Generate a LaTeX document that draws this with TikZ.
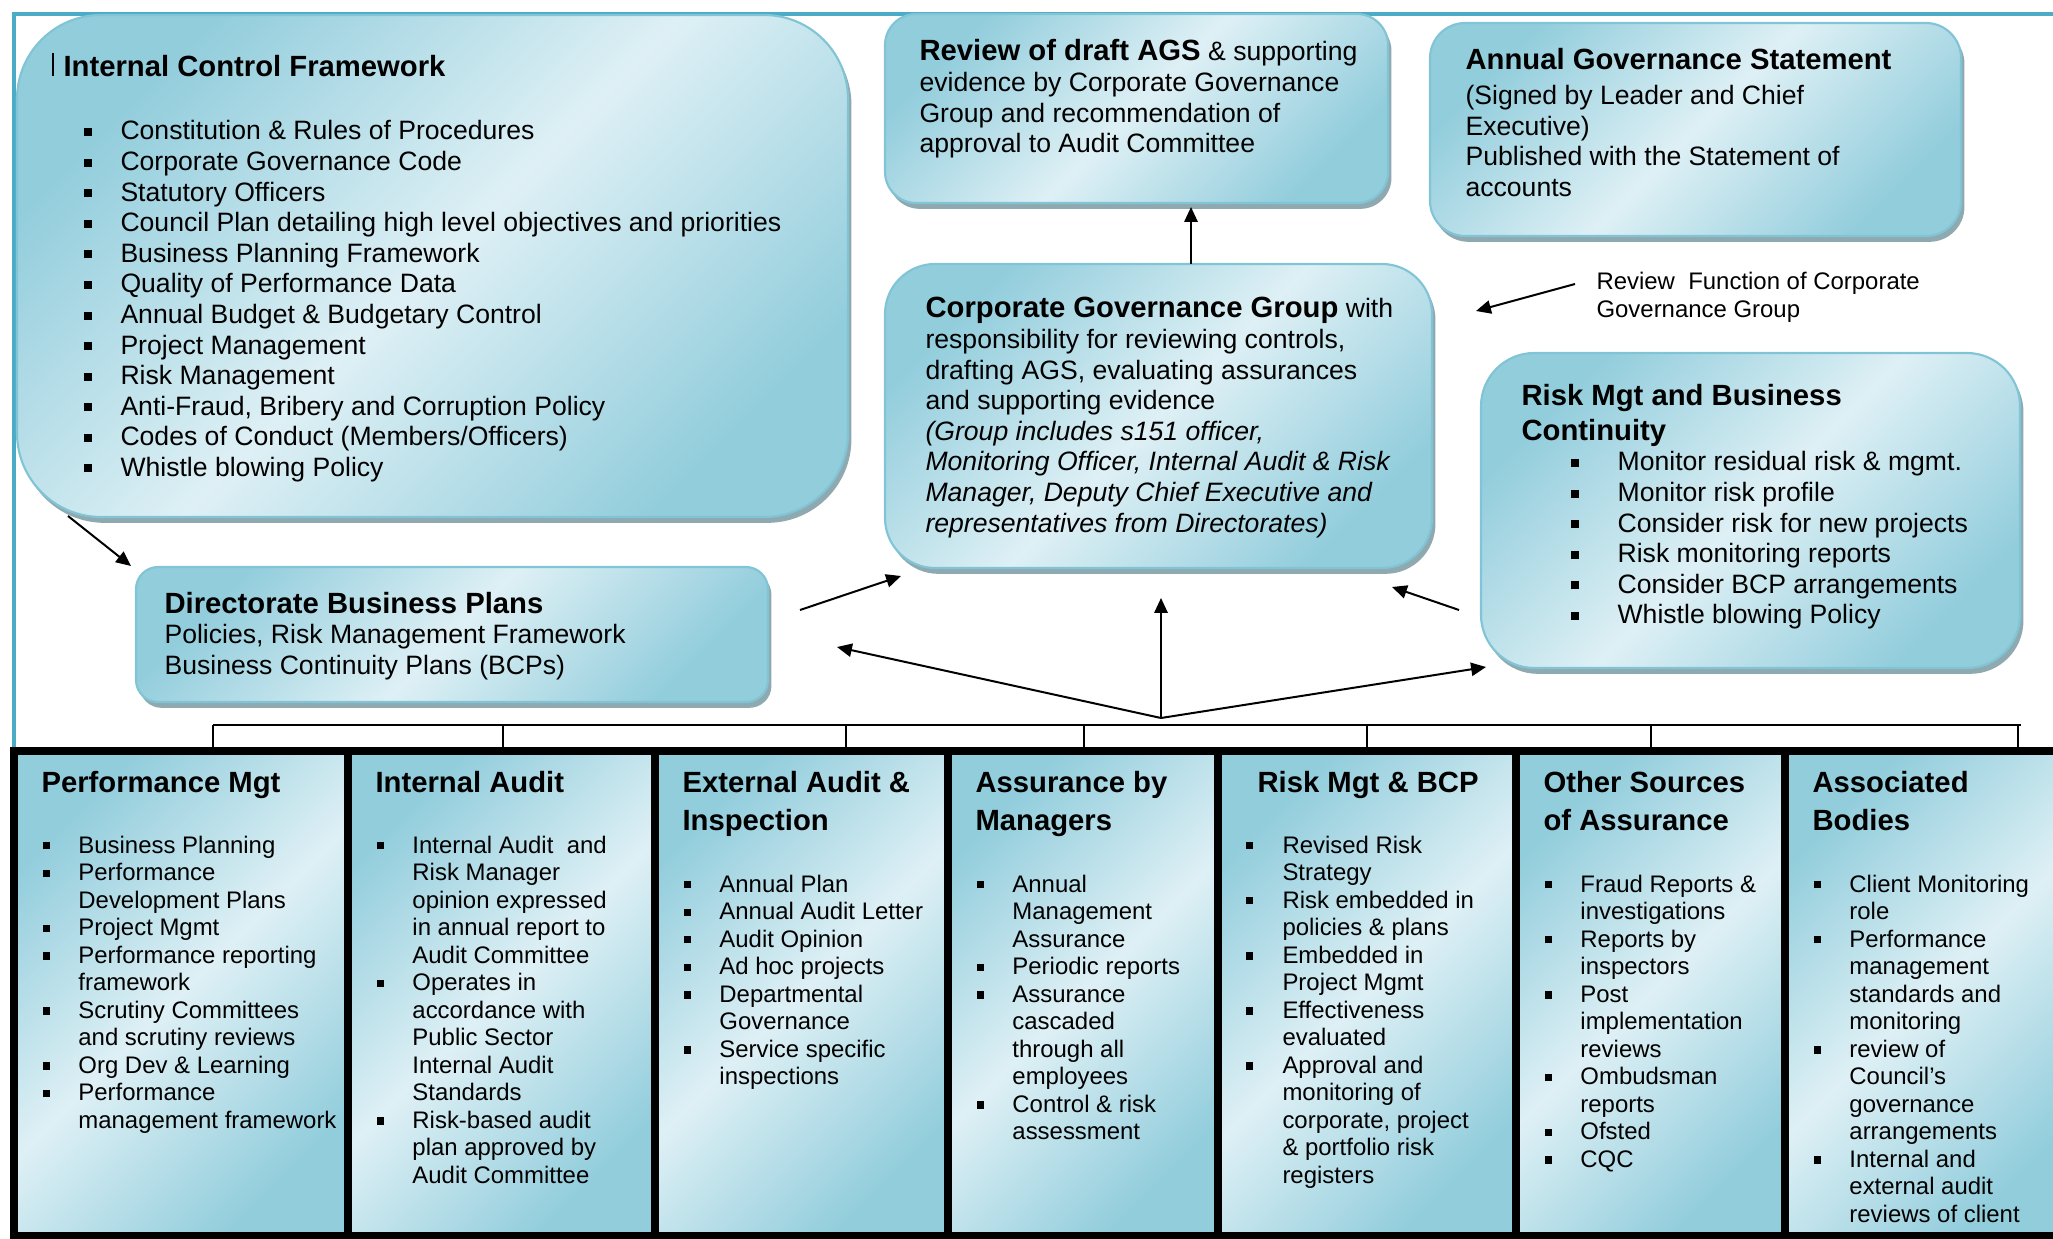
\documentclass[tikz,border=0pt]{standalone}
\usepackage{fontspec}
\setmainfont{Liberation Sans}
\usetikzlibrary{fit,shadows,arrows.meta}
\definecolor{framecol}{RGB}{75,172,198}
\definecolor{paneldark}{RGB}{146,205,220}
\definecolor{panellight}{RGB}{222,240,245}
\definecolor{panelline}{RGB}{128,196,214}
\definecolor{panelshade}{RGB}{143,169,176}
\newcommand{\bul}{\rule[0.15em]{0.3em}{0.3em}}
\newcommand{\textlines}[1]{\begin{tabular}[t]{@{}l@{}}#1\end{tabular}}
\newcommand{\blist}[2]{\begin{tabular}[t]{@{}p{#1}@{}l@{}}#2\end{tabular}}
\newcommand{\boxtitle}[1]{{\fontsize{11}{11.5}\selectfont\bfseries #1}}

\begin{document}
\begin{tikzpicture}[x=0.376pt,y=-0.376pt]
    %
    % `panel' is the rounded shaded box with its shadow.
    % `column' is one of the black framed columns along the bottom.
    % `flow' is used for all arrows, `bus' for the plain lines.
    \tikzstyle{panel} = [draw=panelline,line width=0.8pt,inner sep=0pt,left color=paneldark,right color=paneldark,middle color=panellight,shading angle=45,drop shadow={shadow xshift=1.3pt,shadow yshift=-2.2pt,fill=panelshade,opacity=1}]
    \tikzstyle{column} = [draw=black,line width=2.8pt,inner sep=0pt,left color=paneldark,right color=paneldark,middle color=panellight,shading angle=45]
    \tikzstyle{txt} = [anchor=base west,inner sep=0pt]
    \tikzstyle{bodyfont} = [font=\fontsize{10}{11.5}\selectfont]
    \tikzstyle{smallfont} = [font=\fontsize{9}{10.35}\selectfont]
    \tikzstyle{headfont} = [font=\fontsize{11}{12.8}\selectfont\bfseries]
    \tikzstyle{colheadfont} = [font=\fontsize{11}{14.3}\selectfont\bfseries]
    \tikzstyle{flow} = [-{Triangle[length=5.6pt,width=5pt]},line width=0.75pt]
    \tikzstyle{bus} = [line width=0.75pt]
    \useasboundingbox (0,0) rectangle (2053,1239);
    %
    % Outer frame
    \draw[framecol,line width=1.6pt] (14,748) -- (14,14) -- (2060,14);
    %
    % Boxes
    \node[panel,rounded corners=31.6pt,fit={(17,15) (848,517)}] (icf) {};
    \node[panel,rounded corners=11.7pt,fit={(885,14) (1388,203)}] (review) {};
    \node[panel,rounded corners=13.2pt,fit={(1430,23) (1961,236)}] (ags) {};
    \node[panel,rounded corners=18.8pt,fit={(885,264) (1432,568)}] (cgg) {};
    \node[panel,rounded corners=20pt,fit={(1481,353) (2020,668)}] (risk) {};
    \node[panel,rounded corners=8.3pt,fit={(136,567) (768,702)}] (dbp) {};
    %
    % Columns
    \node[column,fit={(14,751) (348,1236)}] (c1) {};
    \node[column,fit={(348,751) (655,1236)}] (c2) {};
    \node[column,fit={(655,751) (948,1236)}] (c3) {};
    \node[column,fit={(948,751) (1218,1236)}] (c4) {};
    \node[column,fit={(1218,751) (1516,1236)}] (c5) {};
    \node[column,fit={(1516,751) (1785,1236)}] (c6) {};
    \node[column,fit={(1785,751) (2075,1236)}] (c7) {};
    %
    % Bus over the columns
    \coordinate (bus-w) at (213,725);
    \coordinate (bus-e) at (2021,725);
    \draw[bus] (bus-w) -- (bus-e);
    \foreach \x/\c in {213/c1,503/c2,846/c3,1084/c4,1367/c5,1651/c6,2018/c7}
        \draw[bus] (\x,0 |- bus-w) -- (\x,0 |- \c.north);
    %
    % Arrows
    \coordinate (hub) at (1161,718);
    \coordinate (dbp-in) at (837,647);
    \coordinate (cgg-in) at (1161,598);
    \coordinate (risk-in) at (1486,667);
    \draw[flow] (hub) -- (dbp-in);
    \draw[flow] (hub) -- (cgg-in);
    \draw[flow] (hub) -- (risk-in);
    \coordinate (icf-out) at (68,516);
    \coordinate (dbp-top) at (131,566);
    \draw[flow] (icf-out) -- (dbp-top);
    \coordinate (dbp-out) at (800,610);
    \coordinate (cgg-sw) at (901,576);
    \draw[flow] (dbp-out) -- (cgg-sw);
    \coordinate (risk-out) at (1459,610);
    \coordinate (cgg-se) at (1392,587);
    \draw[flow] (risk-out) -- (cgg-se);
    \coordinate (cgg-up) at (1191,264);
    \coordinate (review-in) at (1191,207);
    \draw[flow] (cgg-up) -- (review-in);
    \coordinate (note-out) at (1575,284);
    \coordinate (cgg-ne) at (1476,311);
    \draw[flow] (note-out) -- (cgg-ne);
    %
    % Internal control framework
    \draw[line width=0.5pt] (53,53) -- (53,76);
    \node[txt,headfont] (icf-head) at (63,77) {Internal Control Framework};
    \node[txt,bodyfont] (icf-list) at (83,140) {\blist{13.9pt}{%
        \bul & Constitution \& Rules of Procedures\\
        \bul & Corporate Governance Code\\
        \bul & Statutory Officers\\
        \bul & Council Plan detailing high level objectives and priorities\\
        \bul & Business Planning Framework\\
        \bul & Quality of Performance Data\\
        \bul & Annual Budget \& Budgetary Control\\
        \bul & Project Management\\
        \bul & Risk Management\\
        \bul & Anti-Fraud, Bribery and Corruption Policy\\
        \bul & Codes of Conduct (Members/Officers)\\
        \bul & Whistle blowing Policy}};
    %
    % Review, statement, governance group
    \node[txt,bodyfont] (review-text) at (919,61) {\textlines{%
        \boxtitle{Review of draft AGS} \& supporting\\
        evidence by Corporate Governance\\
        Group and recommendation of\\
        approval to Audit Committee}};
    \node[txt,bodyfont] (ags-text) at (1465,70) {\textlines{%
        \boxtitle{Annual Governance Statement}\\[1.5pt]
        (Signed by Leader and Chief\\
        Executive)\\
        Published with the Statement of\\
        accounts}};
    \node[txt,bodyfont] (cgg-text) at (925,318) {\textlines{%
        \boxtitle{Corporate Governance Group} with\\
        responsibility for reviewing controls,\\
        drafting AGS, evaluating assurances\\
        and supporting evidence\\
        \itshape (Group includes s151 officer,\\
        \itshape Monitoring Officer, Internal Audit \& Risk\\
        \itshape Manager, Deputy Chief Executive and\\
        \itshape representatives from Directorates)}};
    \node[txt,smallfont] (cgg-note) at (1596,290) {\textlines{%
        Review\ \ Function of Corporate\\
        Governance Group}};
    %
    % Risk and business continuity
    \node[txt,headfont] (risk-head) at (1521,406) {\textlines{Risk Mgt and Business\\Continuity}};
    \node[txt,bodyfont] (risk-list) at (1570,471) {\blist{17.7pt}{%
        \bul & Monitor residual risk \& mgmt.\\
        \bul & Monitor risk profile\\
        \bul & Consider risk for new projects\\
        \bul & Risk monitoring reports\\
        \bul & Consider BCP arrangements\\
        \bul & Whistle blowing Policy}};
    %
    % Directorate plans
    \node[txt,bodyfont] (dbp-text) at (164,613) {\textlines{%
        \boxtitle{Directorate Business Plans}\\
        Policies, Risk Management Framework\\
        Business Continuity Plans (BCPs)}};
    %
    % Column 1
    \node[txt,colheadfont] (c1-head) at (41,792) {Performance Mgt};
    \node[txt,smallfont] (c1-list) at (42,853) {\blist{13.5pt}{%
        \bul & Business Planning\\
        \bul & Performance\\
             & Development Plans\\
        \bul & Project Mgmt\\
        \bul & Performance reporting\\
             & framework\\
        \bul & Scrutiny Committees\\
             & and scrutiny reviews\\
        \bul & Org Dev \& Learning\\
        \bul & Performance\\
             & management framework}};
    %
    % Column 2
    \node[txt,colheadfont] (c2-head) at (375,792) {Internal Audit};
    \node[txt,smallfont] (c2-list) at (376,853) {\blist{13.5pt}{%
        \bul & Internal Audit\ \ and\\
             & Risk Manager\\
             & opinion expressed\\
             & in annual report to\\
             & Audit Committee\\
        \bul & Operates in\\
             & accordance with\\
             & Public Sector\\
             & Internal Audit\\
             & Standards\\
        \bul & Risk-based audit\\
             & plan approved by\\
             & Audit Committee}};
    %
    % Column 3
    \node[txt,colheadfont] (c3-head) at (682,792) {\textlines{External Audit \&\\Inspection}};
    \node[txt,smallfont] (c3-list) at (683,892) {\blist{13.5pt}{%
        \bul & Annual Plan\\
        \bul & Annual Audit Letter\\
        \bul & Audit Opinion\\
        \bul & Ad hoc projects\\
        \bul & Departmental\\
             & Governance\\
        \bul & Service specific\\
             & inspections}};
    %
    % Column 4
    \node[txt,colheadfont] (c4-head) at (975,792) {\textlines{Assurance by\\Managers}};
    \node[txt,smallfont] (c4-list) at (976,892) {\blist{13.5pt}{%
        \bul & Annual\\
             & Management\\
             & Assurance\\
        \bul & Periodic reports\\
        \bul & Assurance\\
             & cascaded\\
             & through all\\
             & employees\\
        \bul & Control \& risk\\
             & assessment}};
    %
    % Column 5
    \node[txt,colheadfont] (c5-head) at (1257,792) {Risk Mgt \& BCP};
    \node[txt,smallfont] (c5-list) at (1245,853) {\blist{13.9pt}{%
        \bul & Revised Risk\\
             & Strategy\\
        \bul & Risk embedded in\\
             & policies \& plans\\
        \bul & Embedded in\\
             & Project Mgmt\\
        \bul & Effectiveness\\
             & evaluated\\
        \bul & Approval and\\
             & monitoring of\\
             & corporate, project\\
             & \& portfolio risk\\
             & registers}};
    %
    % Column 6
    \node[txt,colheadfont] (c6-head) at (1543,792) {\textlines{Other Sources\\of Assurance}};
    \node[txt,smallfont] (c6-list) at (1544,892) {\blist{13.5pt}{%
        \bul & Fraud Reports \&\\
             & investigations\\
        \bul & Reports by\\
             & inspectors\\
        \bul & Post\\
             & implementation\\
             & reviews\\
        \bul & Ombudsman\\
             & reports\\
        \bul & Ofsted\\
        \bul & CQC}};
    %
    % Column 7
    \node[txt,colheadfont] (c7-head) at (1812,792) {\textlines{Associated\\Bodies}};
    \node[txt,smallfont] (c7-list) at (1813,892) {\blist{13.5pt}{%
        \bul & Client Monitoring\\
             & role\\
        \bul & Performance\\
             & management\\
             & standards and\\
             & monitoring\\
        \bul & review of\\
             & Council’s\\
             & governance\\
             & arrangements\\
        \bul & Internal and\\
             & external audit\\
             & reviews of client}};
    %
\end{tikzpicture}
\end{document}
